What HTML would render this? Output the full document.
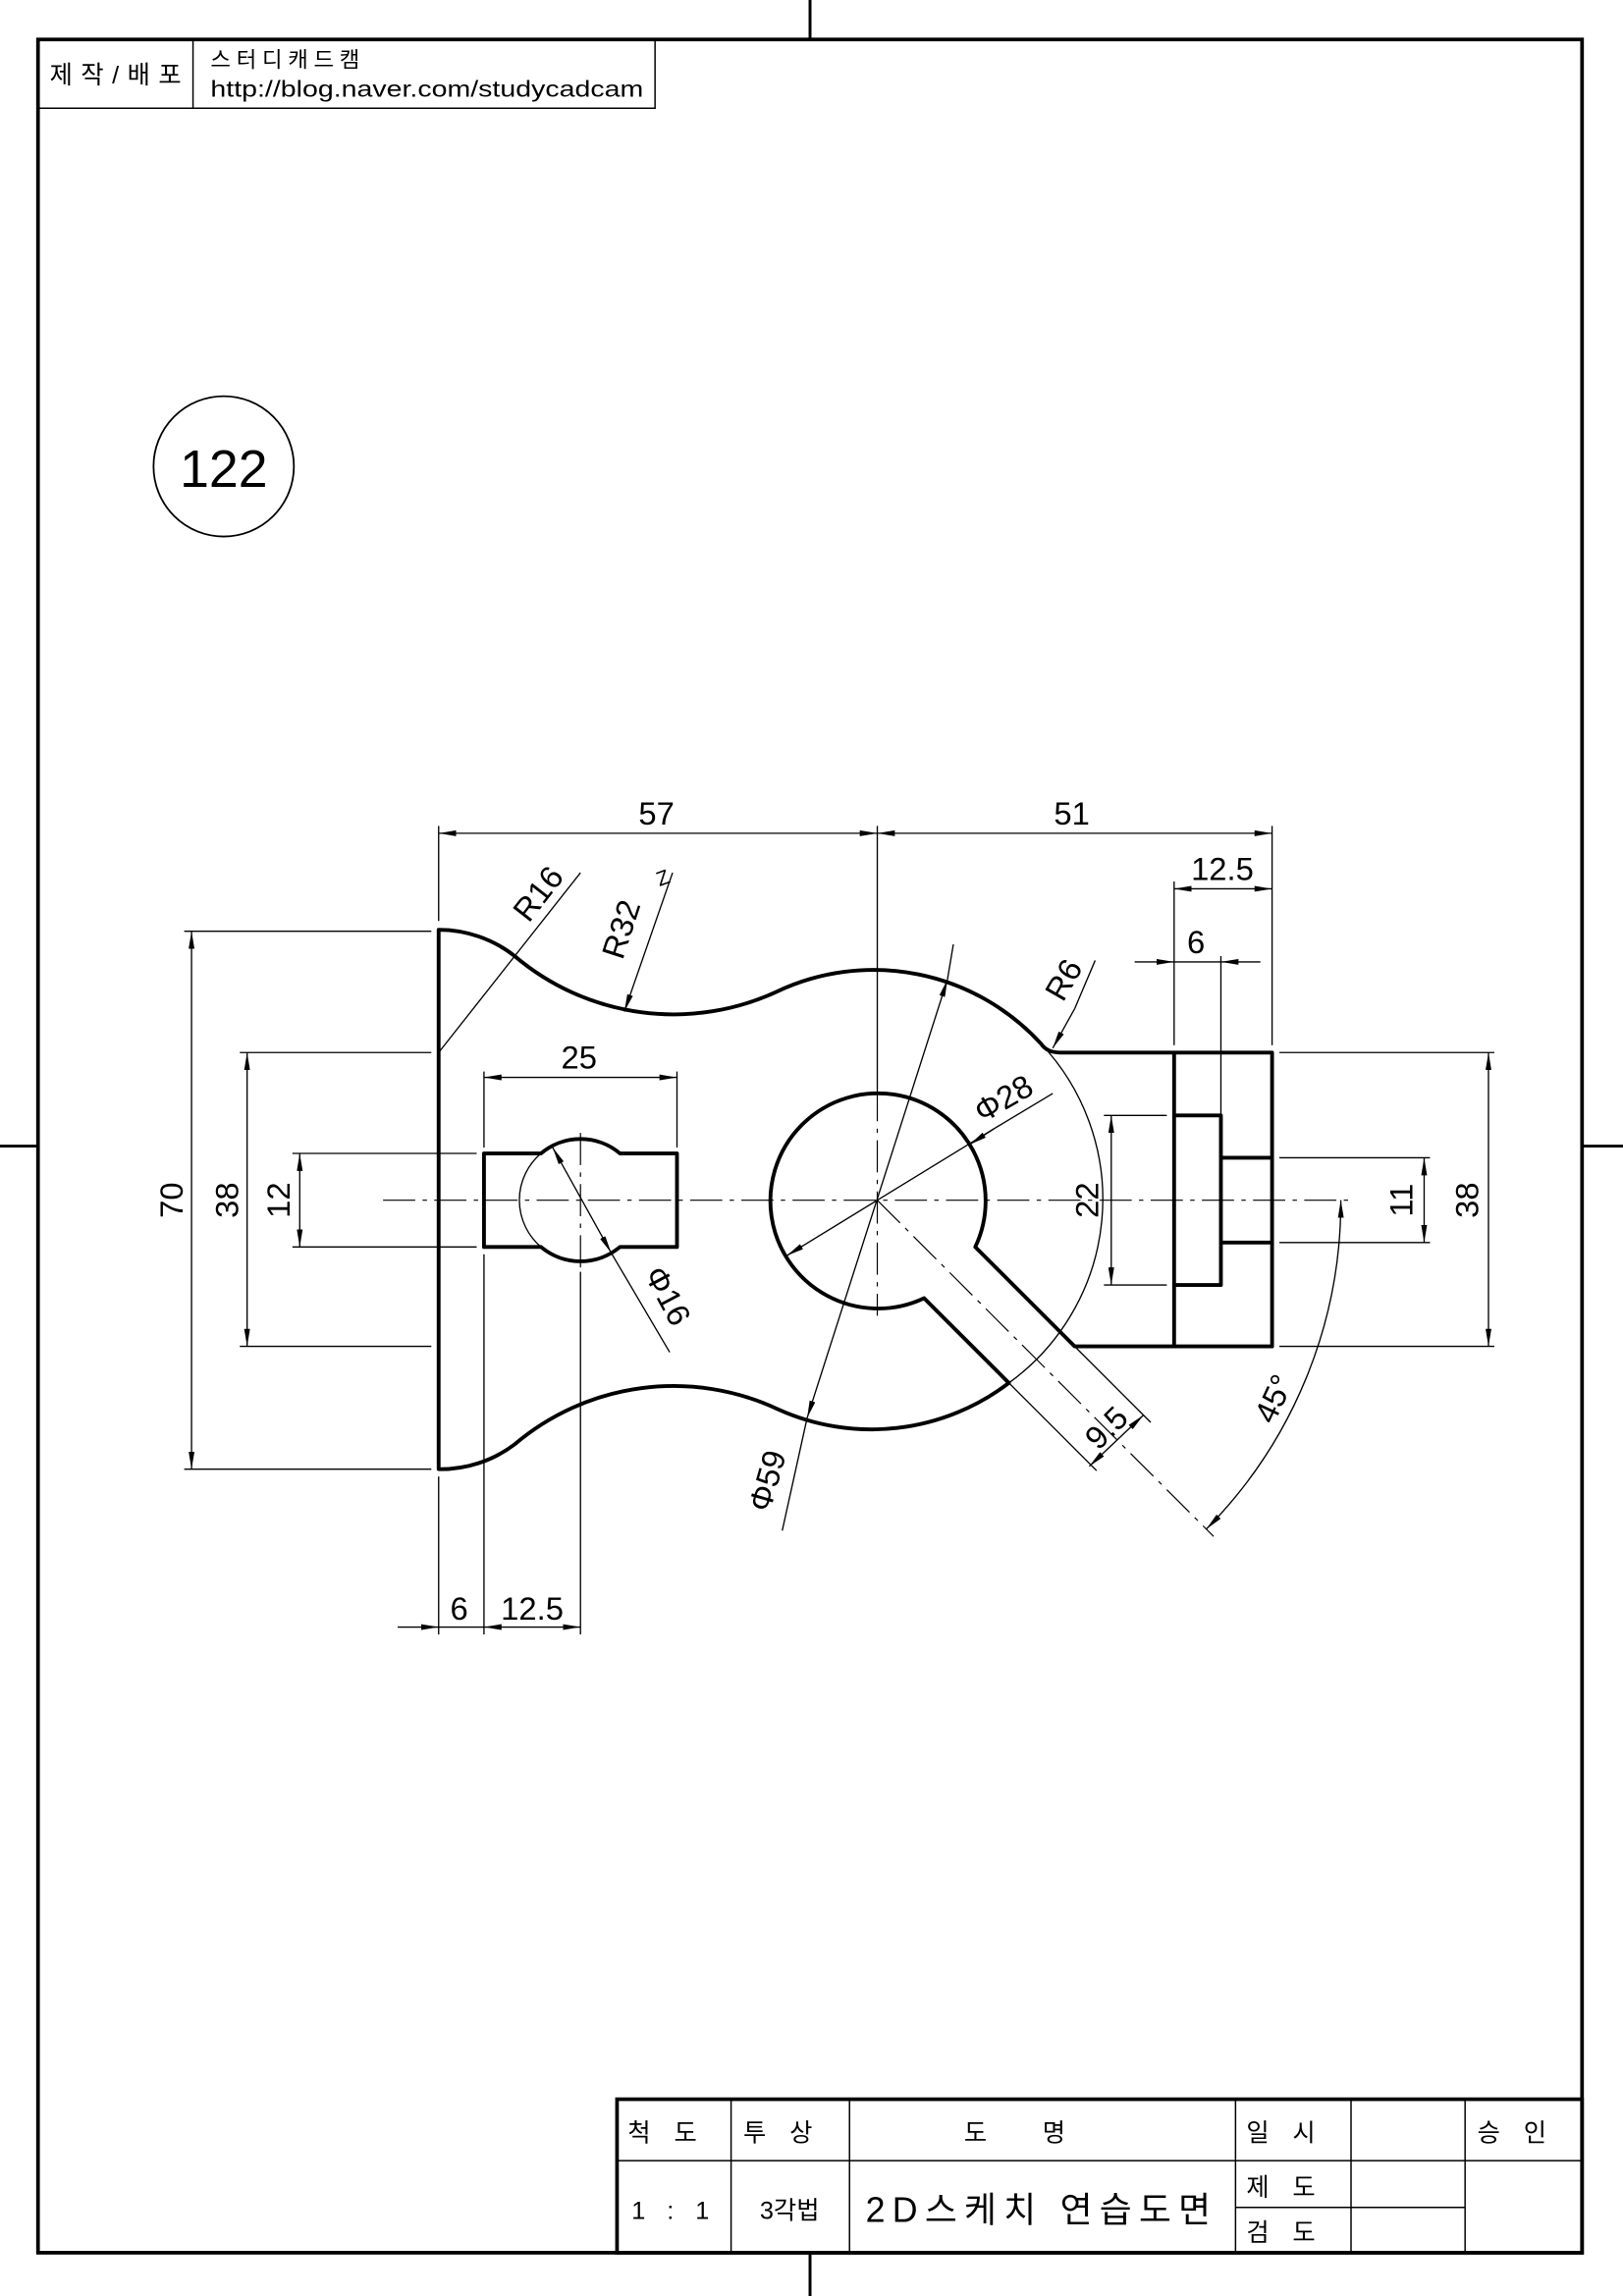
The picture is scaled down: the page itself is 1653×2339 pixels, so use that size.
<!DOCTYPE html>
<html><head><meta charset="utf-8"><style>html,body{margin:0;padding:0;background:#fff}svg{display:block}text{font-family:"Liberation Sans","Noto Sans CJK KR",sans-serif;fill:#000}</style></head>
<body>
<svg width="1653" height="2339" viewBox="0 0 1110 1570.6" preserveAspectRatio="none" xmlns="http://www.w3.org/2000/svg">
<defs>
<marker id="a" viewBox="0 0 12 4" refX="12" refY="2" markerWidth="12" markerHeight="4" markerUnits="userSpaceOnUse" orient="auto-start-reverse"><path d="M0,0L12,2L0,4Z" fill="#000"/></marker>
</defs>
<rect width="1110" height="1571" fill="#fff"/>
<rect x="26" y="27" width="1056" height="1514" fill="none" stroke="#000" stroke-width="2.5"/>
<g stroke="#000" stroke-width="2">
<line x1="554" y1="0" x2="554" y2="27"/><line x1="554" y1="1541" x2="554" y2="1571"/>
<line x1="0" y1="784" x2="26" y2="784"/><line x1="1082" y1="784" x2="1110" y2="784"/>
</g>
<g stroke="#000" stroke-width="1" fill="none"><polyline points="26,74 448,74 448,27"/><line x1="132" y1="27" x2="132" y2="74"/></g>
<text x="34" y="57" font-size="17" textLength="90" lengthAdjust="spacing">제작/배포</text>
<text x="144" y="46" font-size="15" textLength="102" lengthAdjust="spacing">스터디캐드캠</text>
<text x="144" y="66" font-size="15.5" textLength="296" lengthAdjust="spacingAndGlyphs">http://blog.naver.com/studycadcam</text>
<circle cx="153" cy="319" r="48" fill="none" stroke="#000" stroke-width="1.2"/>
<text x="153" y="333" font-size="36" text-anchor="middle">122</text>
<g stroke="#000" fill="none">
<rect x="422" y="1436" width="660" height="105" stroke-width="2.5"/>
<g stroke-width="1"><line x1="422" y1="1478" x2="1082" y2="1478"/><line x1="845" y1="1510" x2="1002" y2="1510"/>
<line x1="500" y1="1436" x2="500" y2="1541"/><line x1="581" y1="1436" x2="581" y2="1541"/><line x1="845" y1="1436" x2="845" y2="1541"/><line x1="924" y1="1436" x2="924" y2="1541"/><line x1="1002" y1="1436" x2="1002" y2="1541"/></g>
</g>
<g font-size="17" text-anchor="middle">
<text x="461" y="1465" letter-spacing="16">척도</text><text x="540" y="1465" letter-spacing="16">투상</text>
<text x="713" y="1465" letter-spacing="38">도명</text><text x="884" y="1465" letter-spacing="16">일시</text>
<text x="1042" y="1465" letter-spacing="16">승인</text>
<text x="461" y="1518" letter-spacing="5">1 : 1</text><text x="540" y="1518">3각법</text>
<text x="592" y="1520" font-size="24" text-anchor="start" textLength="236" lengthAdjust="spacing">2D스케치 연습도면</text>
<text x="884" y="1502" letter-spacing="16">제도</text><text x="884" y="1533" letter-spacing="16">검도</text>
</g>
<g stroke="#000" stroke-width="0.8" fill="none" stroke-dasharray="22,5,3,5">
<line x1="262" y1="821" x2="922" y2="821"/>
<line x1="600" y1="745" x2="600" y2="900"/>
<line x1="397" y1="775" x2="397" y2="870"/>
<line x1="600" y1="821" x2="830" y2="1051"/>
</g>
<g stroke="#000" stroke-width="2.6" fill="none" stroke-linejoin="round">
<path d="M300,636 A84,84 0 0 1 352,654 A168,168 0 0 0 532,678 A155,155 0 0 1 712,714 Q716,720 725,720 L870,720 L870,921 L735,921 L667,853 A73.6,73.6 0 1 0 632,888 L690,946 A155,155 0 0 1 532,964 A168,168 0 0 0 352,988 A84,84 0 0 1 300,1005 Z"/>
<path d="M331,789 L370,789 A42,42 0 0 1 424,789 L463,789 L463,853 L424,853 A42,42 0 0 1 370,853 L331,853 Z"/>
<line x1="803" y1="720" x2="803" y2="921"/>
<polyline points="803,763 835,763 835,879 803,879"/>
<line x1="835" y1="792" x2="870" y2="792"/><line x1="835" y1="850" x2="870" y2="850"/>
</g>
<g stroke="#000" stroke-width="0.9" fill="none">
<path d="M370,789 A42,42 0 0 0 370,853"/>
<path d="M712,714 A155,155 0 0 1 690,946"/>
<line x1="300" y1="565" x2="300" y2="630"/><line x1="600" y1="565" x2="600" y2="745"/>
<line x1="870" y1="565" x2="870" y2="715"/><line x1="803" y1="603" x2="803" y2="715"/>
<line x1="835" y1="654" x2="835" y2="763"/>
<line x1="331" y1="733" x2="331" y2="785"/><line x1="463" y1="733" x2="463" y2="785"/>
<line x1="300" y1="1010" x2="300" y2="1118"/><line x1="331" y1="858" x2="331" y2="1118"/><line x1="397" y1="870" x2="397" y2="1118"/>
<line x1="126" y1="637" x2="295" y2="637"/><line x1="126" y1="1005" x2="295" y2="1005"/>
<line x1="164" y1="720" x2="295" y2="720"/><line x1="164" y1="921" x2="295" y2="921"/>
<line x1="200" y1="789" x2="326" y2="789"/><line x1="200" y1="853" x2="326" y2="853"/>
<line x1="755" y1="763" x2="798" y2="763"/><line x1="755" y1="879" x2="798" y2="879"/>
<line x1="875" y1="792" x2="978" y2="792"/><line x1="875" y1="850" x2="978" y2="850"/>
<line x1="875" y1="720" x2="1022" y2="720"/><line x1="875" y1="921" x2="1022" y2="921"/>
<line x1="735" y1="921" x2="787" y2="973"/><line x1="690" y1="946" x2="750" y2="1006"/>
<line x1="300" y1="720" x2="397" y2="597"/>
<line x1="749" y1="657" x2="735" y2="690"/>
<line x1="720" y1="748" x2="680" y2="772"/>
<g marker-start="url(#a)" marker-end="url(#a)">
<line x1="300" y1="570" x2="600" y2="570"/><line x1="600" y1="570" x2="870" y2="570"/>
<line x1="803" y1="608" x2="870" y2="608"/>
<line x1="331" y1="737" x2="463" y2="737"/>
<line x1="131" y1="637" x2="131" y2="1005"/><line x1="169" y1="720" x2="169" y2="921"/>
<line x1="205" y1="789" x2="205" y2="853"/><line x1="760" y1="763" x2="760" y2="879"/>
<line x1="974" y1="792" x2="974" y2="850"/><line x1="1018" y1="720" x2="1018" y2="921"/>
<line x1="378" y1="785" x2="418" y2="857"/>
<line x1="552" y1="970" x2="648" y2="670"/>
<line x1="782" y1="968" x2="745" y2="1003"/>
<path d="M917,821 A318,318 0 0 1 825,1046"/>
</g>
<line x1="418" y1="857" x2="458" y2="925"/>
<line x1="552" y1="970" x2="535" y2="1047"/><line x1="648" y1="670" x2="652" y2="646"/>
<line x1="776" y1="658" x2="803" y2="658" marker-end="url(#a)"/><line x1="862" y1="658" x2="835" y2="658" marker-end="url(#a)"/>
<line x1="803" y1="658" x2="835" y2="658"/>
<line x1="272" y1="1113" x2="300" y2="1113" marker-end="url(#a)"/>
<line x1="300" y1="1113" x2="331" y2="1113"/>
<line x1="331" y1="1113" x2="397" y2="1113" marker-start="url(#a)" marker-end="url(#a)"/>
<line x1="735" y1="690" x2="720" y2="717" marker-end="url(#a)"/>
<line x1="460" y1="597" x2="427" y2="692" marker-end="url(#a)"/>
<line x1="680" y1="772" x2="600" y2="821"/><line x1="680" y1="772" x2="663" y2="783" marker-end="url(#a)"/>
<line x1="600" y1="821" x2="538" y2="859" marker-end="url(#a)"/>
</g>
<g font-size="22" text-anchor="middle">
<text x="449" y="564">57</text><text x="733" y="564">51</text>
<text x="836" y="602">12.5</text><text x="818" y="652">6</text>
<text x="396" y="731">25</text>
<text x="314" y="1108">6</text><text x="364" y="1108">12.5</text>
<text transform="translate(125,821) rotate(-90)">70</text>
<text transform="translate(163,821) rotate(-90)">38</text>
<text transform="translate(198,821) rotate(-90)">12</text>
<text transform="translate(751,821) rotate(-90)">22</text>
<text transform="translate(966,821) rotate(-90)">11</text>
<text transform="translate(1011,821) rotate(-90)">38</text>
<text transform="translate(374,616) rotate(-52)">R16</text>
<text transform="translate(432,638) rotate(-72)">R32</text>
<text transform="translate(455,605) rotate(-20)" font-size="14">Z</text>
<text transform="translate(734,674) rotate(-60)">R6</text>
<text transform="translate(690,758) rotate(-30)">Φ28</text>
<text transform="translate(450,890) rotate(62)">Φ16</text>
<text transform="translate(532,1015) rotate(-74)">Φ59</text>
<text transform="translate(762,982) rotate(-45)">9.5</text>
<text transform="translate(878,960) rotate(-65)">45°</text>
</g>
</svg>
</body></html>
